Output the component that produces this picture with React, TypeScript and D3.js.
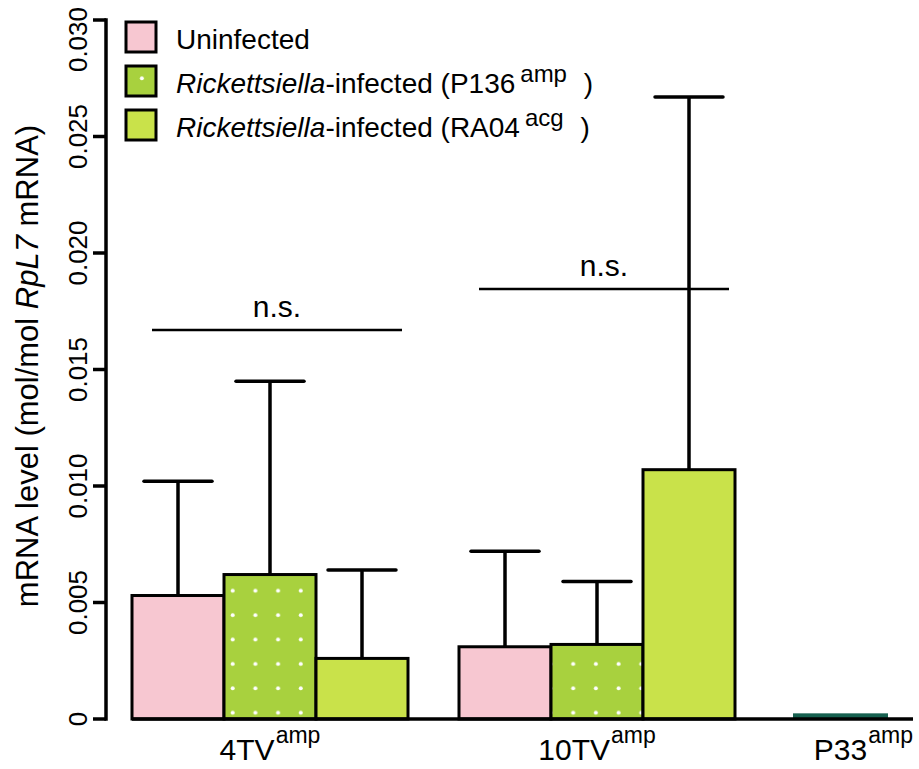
import React from "react";
import * as d3 from "d3";

const groups = ["4TV", "10TV", "P33"];
const seriesNames = ["Uninfected", "P136", "RA04"];
const seriesColors = ["#f7c7d1", "url(#dots)", "#c9e24a"];
const means4TV = [0.0053, 0.0062, 0.0026];
const upper4TV = [0.0102, 0.0145, 0.0064];
const means10TV = [0.0031, 0.0032, 0.0107];
const upper10TV = [0.0072, 0.0059, 0.0267];
const meansP33 = [0.0002];
const yTicks = [0, 0.005, 0.01, 0.015, 0.02, 0.025, 0.03];
const yTickLabels = ["0", "0.005", "0.010", "0.015", "0.020", "0.025", "0.030"];
const nsLevels = [0.0167, 0.01845];

const FONT = "'Liberation Sans', Arial, Helvetica, sans-serif";

export default function App() {
  const W = 919, H = 769;
  const y = d3.scaleLinear().domain([0, 0.03]).range([719, 20]);
  const xg = d3.scaleBand().domain(groups).range([132, 1062]).paddingInner(51 / 327).paddingOuter(0);
  const xs = d3.scaleBand().domain(seriesNames).range([0, xg.bandwidth()]);

  const data = [
    { g: "4TV", means: means4TV, upper: upper4TV },
    { g: "10TV", means: means10TV, upper: upper10TV },
  ];

  const bars: any[] = [];
  data.forEach((d) => {
    d.means.forEach((m, i) => {
      const x0 = (xg(d.g) as number) + (xs(seriesNames[i]) as number);
      bars.push({ x: x0, w: xs.bandwidth(), m, u: d.upper[i], fill: seriesColors[i], key: d.g + i });
    });
  });

  const p33x = (xg("P33") as number) + (xs(seriesNames[0]) as number) + 7;

  return (
    <svg width={W} height={H} style={{ position: "absolute", left: 0, top: 0, background: "#fff" }} fontFamily={FONT}>
      <defs>
        <pattern id="dots" patternUnits="userSpaceOnUse" width={22.7} height={24.4} x={0} y={0}>
          <rect width={22.7} height={24.4} fill="#a8d13e" />
          <circle cx={5.7} cy={5.1} r={2} fill="#ffffff" />
        </pattern>
      </defs>
      <rect x={0} y={0} width={W} height={H} fill="#fff" />

      {/* error bars */}
      {bars.map((b) => {
        const cx = b.x + b.w / 2;
        return (
          <g key={"e" + b.key} stroke="#000" strokeWidth={3.5}>
            <line x1={cx} x2={cx} y1={y(b.m)} y2={y(b.u)} />
            <line x1={cx - 34} x2={cx + 34} y1={y(b.u)} y2={y(b.u)} strokeLinecap="round" />
          </g>
        );
      })}

      {/* bars */}
      {bars.map((b) => (
        <rect key={b.key} x={b.x} y={y(b.m)} width={b.w} height={y(0) - y(b.m)} fill={b.fill} stroke="#000" strokeWidth={3} />
      ))}
      {meansP33.map((m, i) => (
        <rect key={"p" + i} x={p33x} y={y(m) - 1} width={xs.bandwidth() + 3} height={y(0) - y(m)} fill="#16604f" />
      ))}

      {/* x baseline */}
      <line x1={132} x2={913} y1={y(0)} y2={y(0)} stroke="#000" strokeWidth={3.5} />

      {/* y axis */}
      <line x1={106} x2={106} y1={y(0)} y2={y(0.03)} stroke="#000" strokeWidth={3.5} strokeLinecap="square" />
      {yTicks.map((t, i) => {
        const isTop = i === yTicks.length - 1;
        return (
          <g key={"t" + i}>
            <line x1={93} x2={106} y1={y(t)} y2={y(t)} stroke="#000" strokeWidth={3.5} />
            <text
              transform={`translate(87,${isTop ? y(t) - 13 : y(t)}) rotate(-90)`}
              textAnchor={isTop ? "end" : "middle"}
              fontSize={26}
              fill="#000"
            >
              {yTickLabels[i]}
            </text>
          </g>
        );
      })}
      <text transform={`translate(38,${366}) rotate(-90)`} textAnchor="middle" fontSize={31} fill="#000">
        mRNA level (mol/mol <tspan fontStyle="italic">RpL7</tspan> mRNA)
      </text>

      {/* n.s. */}
      {data.map((d, i) => {
        const x1 = (xg(d.g) as number) + 20;
        const x2 = (xg(d.g) as number) + xg.bandwidth() - 6;
        return (
          <g key={"ns" + i}>
            <line x1={x1} x2={x2} y1={y(nsLevels[i])} y2={y(nsLevels[i])} stroke="#000" strokeWidth={2.5} />
            <text x={(x1 + x2) / 2} y={y(nsLevels[i]) - 13} textAnchor="middle" fontSize={30}>
              n.s.
            </text>
          </g>
        );
      })}

      {/* x labels */}
      {groups.map((g, i) => {
        const isLast = i === groups.length - 1;
        const cx = isLast ? 913 : (xg(g) as number) + xg.bandwidth() / 2;
        return (
          <text key={"xl" + g} x={cx} y={760} textAnchor={isLast ? "end" : "middle"} fontSize={30}>
            {g}
            <tspan fontSize={23} dy={-17} dx={1}>amp</tspan>
          </text>
        );
      })}

      {/* legend */}
      {seriesNames.map((s, i) => (
        <rect key={"lg" + i} x={126} y={22 + i * 44} width={30} height={30} fill={seriesColors[i]} stroke="#000" strokeWidth={3} />
      ))}
      <text x={176} y={49} fontSize={28}>Uninfected</text>
      <text x={176} y={93} fontSize={28}>
        <tspan fontStyle="italic">Rickettsiella</tspan>-infected (P136
        <tspan fontSize={24} dy={-11} dx={5}>amp</tspan>
        <tspan dy={11} dx={9}> )</tspan>
      </text>
      <text x={176} y={137} fontSize={28}>
        <tspan fontStyle="italic">Rickettsiella</tspan>-infected (RA04
        <tspan fontSize={24} dy={-11} dx={5}>acg</tspan>
        <tspan dy={11} dx={9}> )</tspan>
      </text>
    </svg>
  );
}
